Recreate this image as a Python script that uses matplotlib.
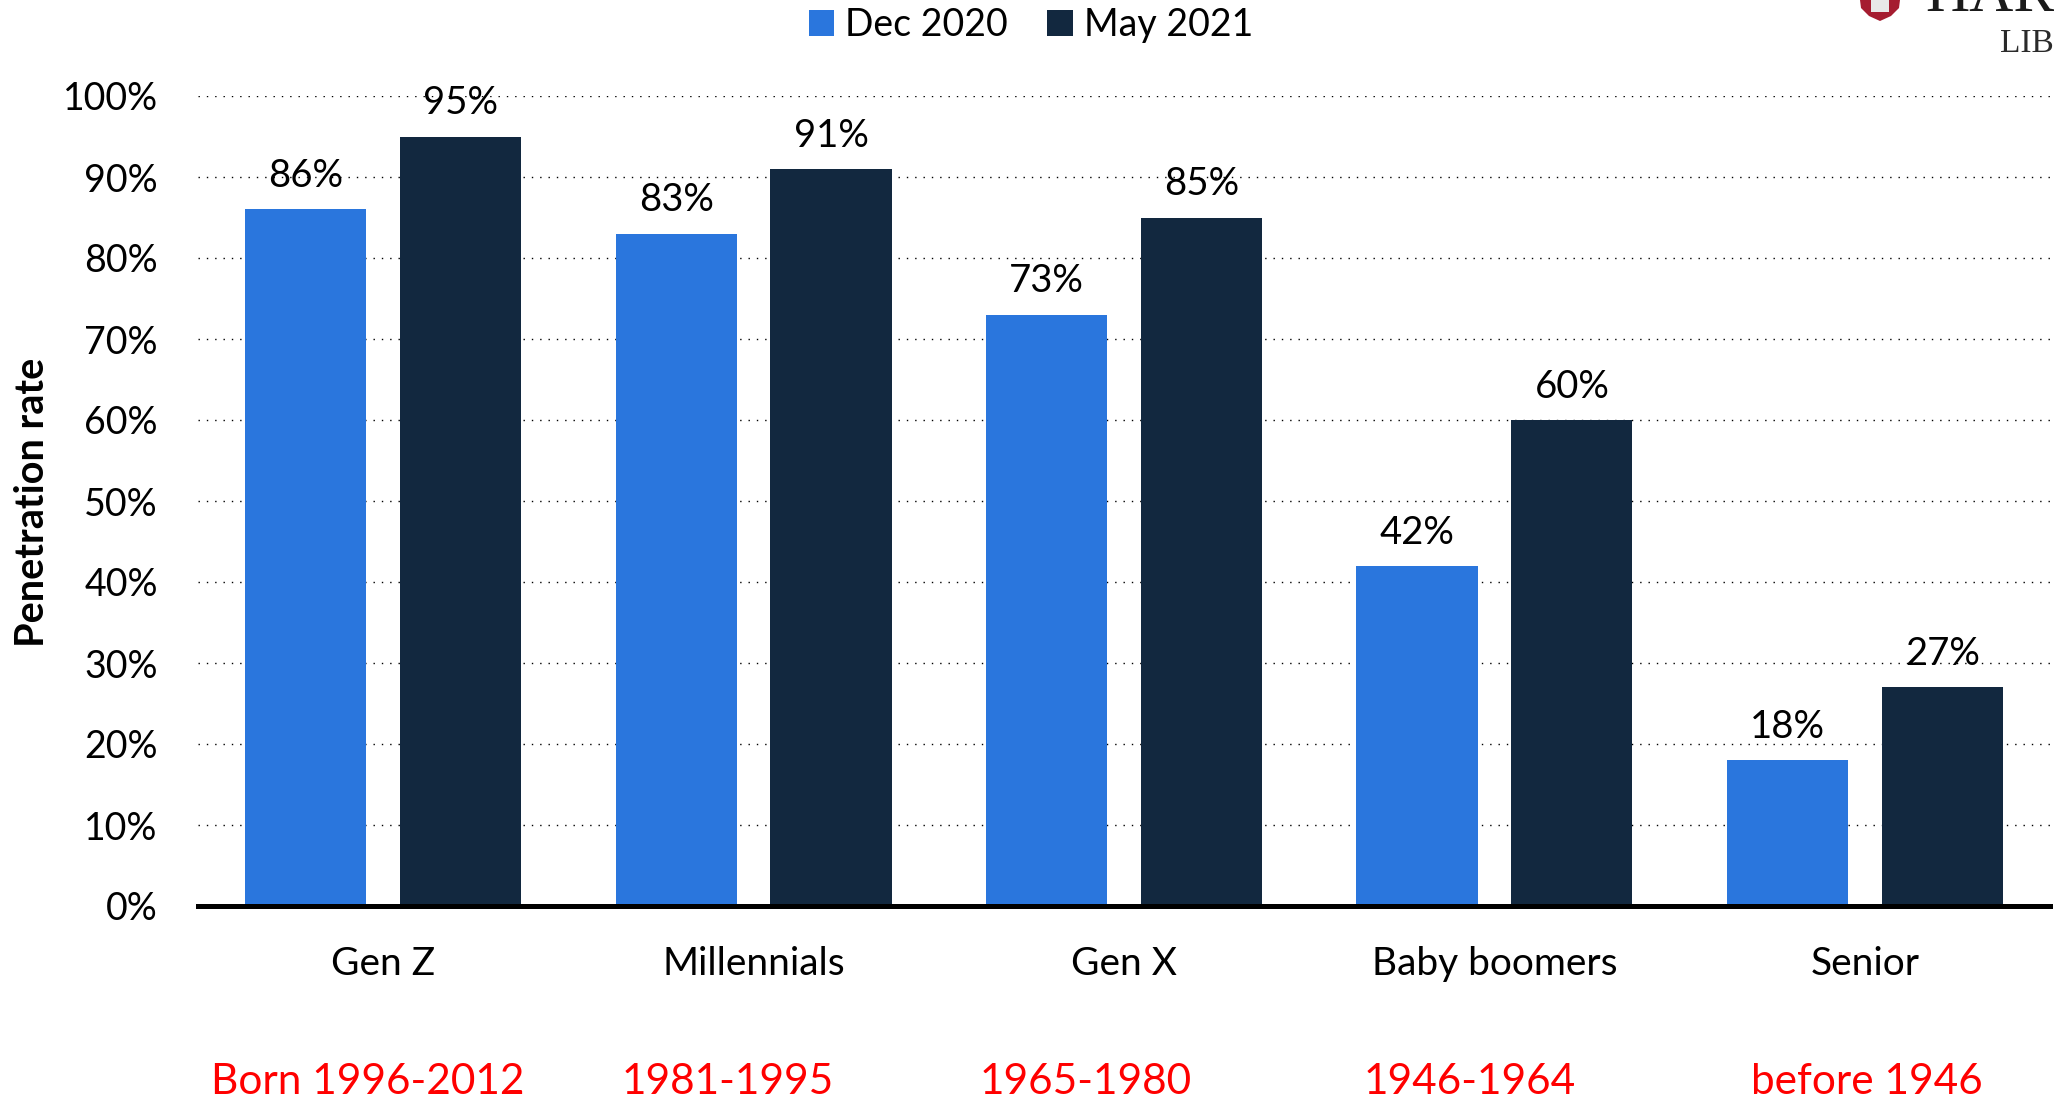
import matplotlib
matplotlib.use("Agg")
import matplotlib.pyplot as plt
from matplotlib.patches import Polygon, Rectangle
import numpy as np

categories = ["Gen Z", "Millennials", "Gen X", "Baby boomers", "Senior"]
born_labels = ["Born 1996-2012", "1981-1995", "1965-1980", "1946-1964", "before 1946"]
dec_2020 = [86, 83, 73, 42, 18]
may_2021 = [95, 91, 85, 60, 27]
y_ticks = [0, 10, 20, 30, 40, 50, 60, 70, 80, 90, 100]
series_names = ["Dec 2020", "May 2021"]

W, H = 2054, 1098
plt.rcParams["font.family"] = ["Lato", "DejaVu Sans"]
BLUE, DARK = "#2A76DD", "#12283F"

fig = plt.figure(figsize=(W / 100, H / 100), dpi=100, facecolor="white")
L, R, T0, B0 = 198, 2050, 96, 906
ax = fig.add_axes([L / W, 1 - B0 / H, (R - L) / W, (B0 - T0) / H])
ax.set_xlim(-0.5, 4.5)
ax.set_ylim(0, 100)

x = np.arange(len(categories))
off, bw = 0.209, 0.327
b1 = ax.bar(x - off, dec_2020, bw, color=BLUE, zorder=3, label=series_names[0])
b2 = ax.bar(x + off, may_2021, bw, color=DARK, zorder=3, label=series_names[1])
for bars in (b1, b2):
    ax.bar_label(bars, fmt="%g%%", padding=11, fontsize=27.5, color="black", zorder=4)

ax.set_yticks(y_ticks)
ax.set_yticklabels([f"{v}%" for v in y_ticks], fontsize=27)
ax.tick_params(axis="y", length=0, pad=29)
ax.set_xticks(x)
ax.set_xticklabels(categories, fontsize=28)
ax.tick_params(axis="x", length=0, pad=28.5)
ax.yaxis.grid(True, color="#000000", linewidth=1.0, linestyle=(0, (1, 5)), zorder=1)
ax.set_axisbelow(True)
for s in ("top", "right", "left"):
    ax.spines[s].set_visible(False)
ax.spines["bottom"].set_linewidth(3.6)
ax.spines["bottom"].set_zorder(5)

fig.text(33 / W, 1 - 502 / H, "Penetration rate", rotation=90, ha="center", va="center",
         fontsize=28.5, fontweight="bold")

red_x = [368, 728, 1086, 1470, 1867]
for px, s in zip(red_x, born_labels):
    fig.text(px / W, 1 - 1082 / H, s, ha="center", va="center", fontsize=30.5, color="#FF0000")

ax.legend(loc="center", bbox_to_anchor=(1031 / W, 1 - 25 / H), bbox_transform=fig.transFigure,
          ncol=2, frameon=False, fontsize=27, handlelength=0.68, handleheight=0.68,
          handletextpad=0.3, columnspacing=1.05, borderpad=0)

# cropped library logo in the top right corner
shield = [(1860, 0), (1900, 0), (1899, 8), (1891, 16), (1880, 21), (1869, 16), (1861, 8)]
fig.add_artist(Polygon([(a / W, 1 - b / H) for a, b in shield], closed=True,
                       transform=fig.transFigure, facecolor="#A51C30", edgecolor="none"))
fig.add_artist(Rectangle((1871 / W, 1 - 12 / H), 18 / W, 12 / H, transform=fig.transFigure,
                         facecolor="#E8E8E8", edgecolor="none"))
fig.text(1925 / W, 1 - 11 / H, "HAR", fontsize=44, family="Liberation Serif", color="#1a1a1a",
         ha="left", va="baseline")
fig.text(2000 / W, 1 - 52 / H, "LIB", fontsize=24, family="Liberation Serif", color="#2a2a2a",
         ha="left", va="baseline")

fig.savefig("out.png", dpi=100, facecolor="white")
